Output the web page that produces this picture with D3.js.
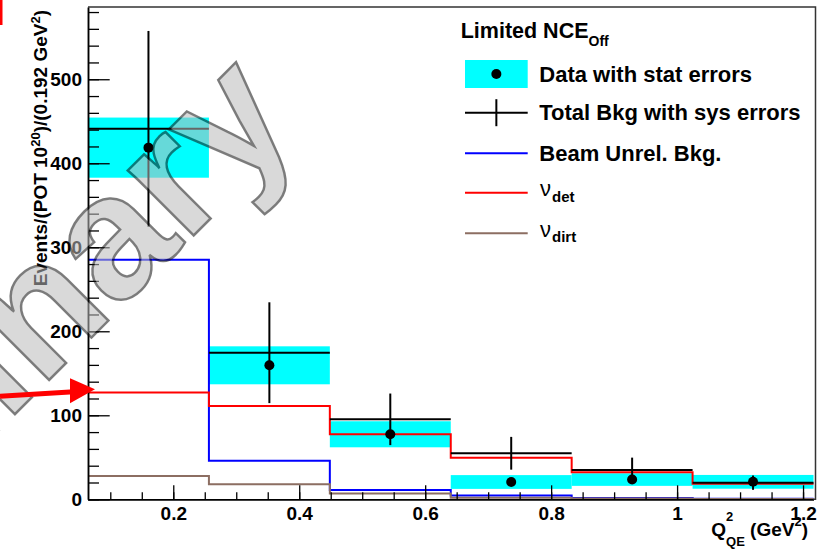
<!DOCTYPE html>
<html>
<head>
<meta charset="utf-8">
<script src="https://cdn.jsdelivr.net/npm/d3@7"></script>
<style>
  body { margin: 0; background: #fff; }
  text { font-family: "Liberation Sans", Arial, Helvetica, sans-serif; }
</style>
</head>
<body>
<div id="chart-area"></div>
<script>
// bin edges of Q2_QE (GeV^2), 0.192 GeV^2 wide
var binEdges = [0.0646, 0.2566, 0.4486, 0.6406, 0.8326, 1.0246, 1.2166];

// data with stat errors
var dataVals = [418.6, 159.5, 77.4, 20.6, 23.5, 20.8];
var dataErr  = [35.8, 22.6, 15.5, 8.2, 7.5, 8.2];

// total background with sys errors
var bkgVals = [441, 174.5, 95.2, 54.8, 34.9, 19.8];
var bkgErr  = [116.5, 60, 30.7, 19.5, 14.7, 8.5];

// background components
var beamUnrel = [285, 46, 11, 4.5, 1.5, 0.8];
var nuDet     = [127, 111, 77.4, 49.6, 32.2, 18.6];
var nuDirt    = [27.7, 17.8, 7, 1.8, 1, 0.5];

var yMajor = [0, 100, 200, 300, 400, 500];
var xMajor = [0.2, 0.4, 0.6, 0.8, 1.0, 1.2];
var xLabels = ["0.2", "0.4", "0.6", "0.8", "1", "1.2"];

var width = 817, height = 553;
var pad = { left: 88, right: 813.5, frame: 815.5, top: 7, bottom: 499.3 };

var svg = d3.select("#chart-area")
    .append("svg")
        .attr("width", width)
        .attr("height", height);

svg.append("rect").attr("width", width).attr("height", height).attr("fill", "#fff");

var x = d3.scaleLinear().domain([binEdges[0], binEdges[6]]).range([pad.left, pad.right]);
var y = d3.scaleLinear().domain([0, 586]).range([pad.bottom, pad.top]);

var bins = dataVals.map(function(d, i) {
    return { lo: binEdges[i], hi: binEdges[i + 1], mid: (binEdges[i] + binEdges[i + 1]) / 2,
             data: d, dErr: dataErr[i], bkg: bkgVals[i], bErr: bkgErr[i] };
});

// cyan stat error boxes
svg.append("g").selectAll("rect")
    .data(bins)
    .enter().append("rect")
        .attr("x", function(d) { return x(d.lo); })
        .attr("width", function(d) { return x(d.hi) - x(d.lo); })
        .attr("y", function(d) { return y(d.data + d.dErr); })
        .attr("height", function(d) { return y(d.data - d.dErr) - y(d.data + d.dErr); })
        .attr("fill", "#00ffff");

// step histograms
var step = d3.line()
    .x(function(d) { return x(d[0]); })
    .y(function(d) { return y(d[1]); })
    .curve(d3.curveStepAfter);

function histPoints(vals) {
    var pts = vals.map(function(v, i) { return [binEdges[i], v]; });
    pts.push([binEdges[vals.length], vals[vals.length - 1]]);
    return pts;
}

[[beamUnrel, "#0000ff"], [nuDirt, "#8c6e62"], [nuDet, "#ff0000"]].forEach(function(h) {
    svg.append("path")
        .attr("d", step(histPoints(h[0])))
        .attr("fill", "none")
        .attr("stroke", h[1])
        .attr("stroke-width", 2);
});

// total background: horizontal line + sys error bar
var bk = svg.append("g").attr("stroke", "#000").attr("stroke-width", 2);
bk.selectAll(".bh").data(bins).enter().append("line")
    .attr("x1", function(d) { return x(d.lo); })
    .attr("x2", function(d) { return x(d.hi); })
    .attr("y1", function(d) { return y(d.bkg); })
    .attr("y2", function(d) { return y(d.bkg); });
bk.selectAll(".bv").data(bins).enter().append("line")
    .attr("x1", function(d) { return x(d.mid); })
    .attr("x2", function(d) { return x(d.mid); })
    .attr("y1", function(d) { return y(d.bkg + d.bErr); })
    .attr("y2", function(d) { return y(d.bkg - d.bErr); });

// data points
svg.append("g").selectAll("circle")
    .data(bins)
    .enter().append("circle")
        .attr("cx", function(d) { return x(d.mid); })
        .attr("cy", function(d) { return y(d.data); })
        .attr("r", 5)
        .attr("fill", "#000");

// axes (ROOT style, ticks inside)
svg.append("g").attr("transform", "translate(" + pad.left + ",0)")
    .call(d3.axisLeft(y).tickValues(yMajor).tickSize(-21.7).tickSizeOuter(0).tickPadding(6));
svg.append("g").attr("transform", "translate(" + pad.left + ",0)")
    .call(d3.axisLeft(y).tickValues(d3.range(0, 581, 20)).tickSize(-11).tickSizeOuter(0).tickFormat(""));

svg.append("g").attr("transform", "translate(0," + pad.bottom + ")")
    .call(d3.axisBottom(x).tickValues(xMajor).tickSize(-14).tickSizeOuter(0).tickPadding(7)
        .tickFormat(function(d, i) { return xLabels[i]; }));
svg.append("g").attr("transform", "translate(0," + pad.bottom + ")")
    .call(d3.axisBottom(x).tickValues(d3.range(0.1, 1.21, 0.05)).tickSize(-7).tickSizeOuter(0).tickFormat(""));

svg.selectAll(".domain").attr("stroke", "#000").attr("stroke-width", 1.5);
svg.selectAll(".tick line").attr("stroke", "#000").attr("stroke-width", 1.3);
svg.selectAll(".tick text")
    .attr("font-family", "Liberation Sans, Arial, sans-serif")
    .attr("font-size", "19px")
    .attr("font-weight", "bold")
    .attr("fill", "#000");

// frame top/right
svg.append("path")
    .attr("d", "M" + pad.left + "," + pad.top + "H" + pad.frame + "V" + pad.bottom + "H" + pad.right)
    .attr("fill", "none")
    .attr("stroke", "#333")
    .attr("stroke-width", 1.5);

// y label
var yl = svg.append("text")
    .attr("transform", "translate(47,10) rotate(-90)")
    .attr("text-anchor", "end")
    .attr("font-size", "19px")
    .attr("font-weight", "bold");
yl.append("tspan").text("Events/(POT 10");
yl.append("tspan").attr("font-size", "13px").attr("dy", -7).text("20");
yl.append("tspan").attr("dy", 7).text(")/(0.192 GeV");
yl.append("tspan").attr("font-size", "13px").attr("dy", -7).text("2");
yl.append("tspan").attr("dy", 7).text(")");

// x label
var xl = svg.append("text")
    .attr("x", 808).attr("y", 536)
    .attr("text-anchor", "end")
    .attr("font-size", "19px")
    .attr("font-weight", "bold");
xl.append("tspan").text("Q");
xl.append("tspan").attr("font-size", "13px").attr("dy", -15).text("2");
xl.append("tspan").attr("font-size", "13px").attr("dx", -7.2).attr("dy", 25).text("QE");
xl.append("tspan").attr("dy", -10).text(" (GeV");
xl.append("tspan").attr("font-size", "13px").attr("dy", -10).text("2");
xl.append("tspan").attr("dy", 10).text(")");

// legend
var lg = svg.append("g").attr("font-weight", "bold");
var lt = lg.append("text").attr("x", 460.7).attr("y", 38).attr("font-size", "21.5px");
lt.append("tspan").text("Limited NCE");
lt.append("tspan").attr("font-size", "14px").attr("dy", 8).text("Off");

var lx0 = 465, lx1 = 527.7, ltx = 539.3;
var rows = [74, 112.7, 153.3, 192.7, 233.3];

lg.append("rect").attr("x", lx0).attr("y", rows[0] - 14).attr("width", lx1 - lx0).attr("height", 28).attr("fill", "#00ffff");
lg.append("circle").attr("cx", (lx0 + lx1) / 2).attr("cy", rows[0]).attr("r", 5).attr("fill", "#000");
lg.append("text").attr("x", ltx).attr("y", rows[0] + 7.5).attr("font-size", "22px").text("Data with stat errors");

lg.append("line").attr("x1", lx0).attr("x2", lx1).attr("y1", rows[1]).attr("y2", rows[1]).attr("stroke", "#000").attr("stroke-width", 2);
lg.append("line").attr("x1", (lx0 + lx1) / 2).attr("x2", (lx0 + lx1) / 2).attr("y1", rows[1] - 13.5).attr("y2", rows[1] + 13.5).attr("stroke", "#000").attr("stroke-width", 2);
lg.append("text").attr("x", ltx).attr("y", rows[1] + 7.5).attr("font-size", "22px").text("Total Bkg with sys errors");

lg.append("line").attr("x1", lx0).attr("x2", lx1).attr("y1", rows[2]).attr("y2", rows[2]).attr("stroke", "#0000ff").attr("stroke-width", 2);
lg.append("text").attr("x", ltx).attr("y", rows[2] + 7.5).attr("font-size", "22px").text("Beam Unrel. Bkg.");

[[rows[3], "#ff0000", "det"], [rows[4], "#8c6e62", "dirt"]].forEach(function(r) {
    lg.append("line").attr("x1", lx0).attr("x2", lx1).attr("y1", r[0]).attr("y2", r[0]).attr("stroke", r[1]).attr("stroke-width", 2);
    var t = lg.append("text").attr("x", 540).attr("y", r[0] + 3.3);
    t.append("tspan").attr("font-size", "22px").attr("font-weight", "normal").text("\u03bd");
    t.append("tspan").attr("font-size", "15px").attr("dx", 1).attr("dy", 5.7).text(r[2]);
});

// Preliminary watermark
svg.append("text")
    .attr("transform", "translate(302,127) rotate(-45)")
    .attr("text-anchor", "end")
    .attr("font-size", "175px")
    .attr("font-weight", "bold")
    .attr("fill", "#bbb")
    .attr("stroke", "#111")
    .attr("stroke-width", 2.5)
    .attr("opacity", 0.55)
    .text("Preliminary");

// red arrow pointing at the nu_det level
var ay = y(131);
svg.append("line")
    .attr("x1", 0).attr("y1", ay + 7)
    .attr("x2", 74).attr("y2", ay + 2.5)
    .attr("stroke", "#ff0000").attr("stroke-width", 5);
svg.append("path")
    .attr("d", "M70," + (ay - 11) + "L95," + ay + "L70," + (ay + 14) + "Z")
    .attr("fill", "#ff0000");

// red mark at top-left corner
svg.append("rect").attr("x", 0).attr("y", 0).attr("width", 2.5).attr("height", 25).attr("fill", "#ff0000");
</script>
</body>
</html>
